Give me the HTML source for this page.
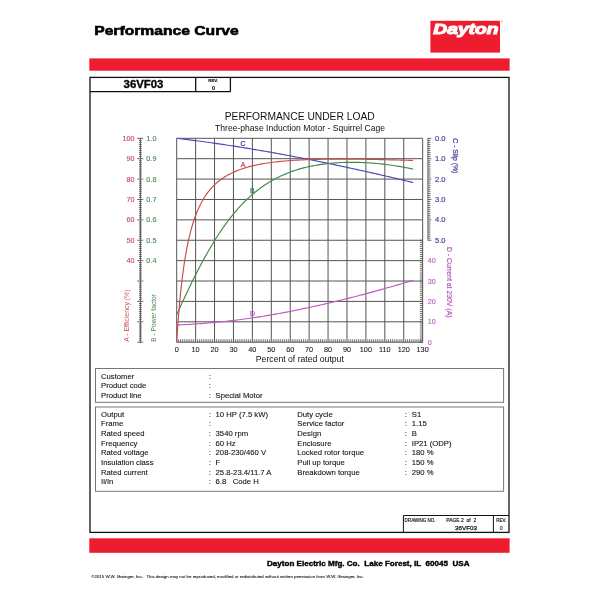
<!DOCTYPE html><html><head><meta charset="utf-8"><title>Performance Curve</title><style>
html,body{margin:0;padding:0;background:#fff;width:600px;height:600px;overflow:hidden}
svg{display:block;filter:blur(0.3px)}text{font-family:"Liberation Sans",Arial,Helvetica,sans-serif}
</style></head><body>
<svg width="600" height="600" viewBox="0 0 600 600">
<rect width="600" height="600" fill="#fff"/>
<text x="94.2" y="34.9" font-size="13.4" font-weight="bold" fill="#000" stroke="#000" stroke-width="0.6" textLength="144.5" lengthAdjust="spacingAndGlyphs">Performance Curve</text>
<rect x="430.4" y="20.8" width="69.6" height="31.8" fill="#ED1C2E"/>
<text x="433.3" y="34.4" font-size="14.6" font-weight="bold" font-style="italic" fill="#fff" stroke="#fff" stroke-width="1.05" textLength="65.2" lengthAdjust="spacingAndGlyphs">Dayton</text>
<text x="501" y="22.6" font-size="3" fill="#c66">®</text>
<rect x="89.3" y="58.4" width="420.3" height="12.3" fill="#ED1C2E"/>
<rect x="89.3" y="538.3" width="420.3" height="14.5" fill="#ED1C2E"/>
<rect x="90" y="77.4" width="419" height="455" fill="none" stroke="#111" stroke-width="1.3"/>
<path d="M90 91.7H230.4M195.7 77.4V91.7M230.4 77.4V91.7" fill="none" stroke="#111" stroke-width="1.3"/>
<text x="143.5" y="87.9" font-size="10.2" font-weight="bold" text-anchor="middle" fill="#000" stroke="#000" stroke-width="0.3" textLength="39.8" lengthAdjust="spacingAndGlyphs">36VF03</text>
<text x="213.2" y="82.4" font-size="4.4" font-weight="bold" text-anchor="middle" fill="#111" stroke="#111" stroke-width="0.15" textLength="10" lengthAdjust="spacingAndGlyphs">REV.</text>
<text x="213.4" y="89.7" font-size="5.4" font-weight="bold" text-anchor="middle" fill="#111" stroke="#111" stroke-width="0.15">0</text>
<text x="299.7" y="120" font-size="10" text-anchor="middle" fill="#111" textLength="150" lengthAdjust="spacingAndGlyphs">PERFORMANCE UNDER LOAD</text>
<text x="300.1" y="130.5" font-size="8.2" text-anchor="middle" fill="#111" textLength="170" lengthAdjust="spacingAndGlyphs">Three-phase Induction Motor - Squirrel Cage</text>
<path d="M176.70 138.30V342.20M195.62 138.30V342.20M214.54 138.30V342.20M233.46 138.30V342.20M252.38 138.30V342.20M271.30 138.30V342.20M290.22 138.30V342.20M309.14 138.30V342.20M328.06 138.30V342.20M346.98 138.30V342.20M365.90 138.30V342.20M384.82 138.30V342.20M403.74 138.30V342.20M422.66 138.30V342.20M176.70 138.30H422.66M176.70 158.69H422.66M176.70 179.08H422.66M176.70 199.47H422.66M176.70 219.86H422.66M176.70 240.25H422.66M176.70 260.64H422.66M176.70 281.03H422.66M176.70 301.42H422.66M176.70 321.81H422.66M176.70 342.20H422.66" fill="none" stroke="#555" stroke-width="1"/>
<path d="M178.59 339.20V342.20M180.48 339.20V342.20M182.38 339.20V342.20M184.27 339.20V342.20M186.16 339.20V342.20M188.05 339.20V342.20M189.94 339.20V342.20M191.84 339.20V342.20M193.73 339.20V342.20M197.51 339.20V342.20M199.40 339.20V342.20M201.30 339.20V342.20M203.19 339.20V342.20M205.08 339.20V342.20M206.97 339.20V342.20M208.86 339.20V342.20M210.76 339.20V342.20M212.65 339.20V342.20M216.43 339.20V342.20M218.32 339.20V342.20M220.22 339.20V342.20M222.11 339.20V342.20M224.00 339.20V342.20M225.89 339.20V342.20M227.78 339.20V342.20M229.68 339.20V342.20M231.57 339.20V342.20M235.35 339.20V342.20M237.24 339.20V342.20M239.14 339.20V342.20M241.03 339.20V342.20M242.92 339.20V342.20M244.81 339.20V342.20M246.70 339.20V342.20M248.60 339.20V342.20M250.49 339.20V342.20M254.27 339.20V342.20M256.16 339.20V342.20M258.06 339.20V342.20M259.95 339.20V342.20M261.84 339.20V342.20M263.73 339.20V342.20M265.62 339.20V342.20M267.52 339.20V342.20M269.41 339.20V342.20M273.19 339.20V342.20M275.08 339.20V342.20M276.98 339.20V342.20M278.87 339.20V342.20M280.76 339.20V342.20M282.65 339.20V342.20M284.54 339.20V342.20M286.44 339.20V342.20M288.33 339.20V342.20M292.11 339.20V342.20M294.00 339.20V342.20M295.90 339.20V342.20M297.79 339.20V342.20M299.68 339.20V342.20M301.57 339.20V342.20M303.46 339.20V342.20M305.36 339.20V342.20M307.25 339.20V342.20M311.03 339.20V342.20M312.92 339.20V342.20M314.82 339.20V342.20M316.71 339.20V342.20M318.60 339.20V342.20M320.49 339.20V342.20M322.38 339.20V342.20M324.28 339.20V342.20M326.17 339.20V342.20M329.95 339.20V342.20M331.84 339.20V342.20M333.74 339.20V342.20M335.63 339.20V342.20M337.52 339.20V342.20M339.41 339.20V342.20M341.30 339.20V342.20M343.20 339.20V342.20M345.09 339.20V342.20M348.87 339.20V342.20M350.76 339.20V342.20M352.66 339.20V342.20M354.55 339.20V342.20M356.44 339.20V342.20M358.33 339.20V342.20M360.22 339.20V342.20M362.12 339.20V342.20M364.01 339.20V342.20M367.79 339.20V342.20M369.68 339.20V342.20M371.58 339.20V342.20M373.47 339.20V342.20M375.36 339.20V342.20M377.25 339.20V342.20M379.14 339.20V342.20M381.04 339.20V342.20M382.93 339.20V342.20M386.71 339.20V342.20M388.60 339.20V342.20M390.50 339.20V342.20M392.39 339.20V342.20M394.28 339.20V342.20M396.17 339.20V342.20M398.06 339.20V342.20M399.96 339.20V342.20M401.85 339.20V342.20M405.63 339.20V342.20M407.52 339.20V342.20M409.42 339.20V342.20M411.31 339.20V342.20M413.20 339.20V342.20M415.09 339.20V342.20M416.98 339.20V342.20M418.88 339.20V342.20M420.77 339.20V342.20" fill="none" stroke="#444" stroke-width="0.7"/>
<text x="176.70" y="351.8" font-size="7.3" text-anchor="middle" fill="#222" stroke="#222" stroke-width="0.1">0</text>
<text x="195.62" y="351.8" font-size="7.3" text-anchor="middle" fill="#222" stroke="#222" stroke-width="0.1">10</text>
<text x="214.54" y="351.8" font-size="7.3" text-anchor="middle" fill="#222" stroke="#222" stroke-width="0.1">20</text>
<text x="233.46" y="351.8" font-size="7.3" text-anchor="middle" fill="#222" stroke="#222" stroke-width="0.1">30</text>
<text x="252.38" y="351.8" font-size="7.3" text-anchor="middle" fill="#222" stroke="#222" stroke-width="0.1">40</text>
<text x="271.30" y="351.8" font-size="7.3" text-anchor="middle" fill="#222" stroke="#222" stroke-width="0.1">50</text>
<text x="290.22" y="351.8" font-size="7.3" text-anchor="middle" fill="#222" stroke="#222" stroke-width="0.1">60</text>
<text x="309.14" y="351.8" font-size="7.3" text-anchor="middle" fill="#222" stroke="#222" stroke-width="0.1">70</text>
<text x="328.06" y="351.8" font-size="7.3" text-anchor="middle" fill="#222" stroke="#222" stroke-width="0.1">80</text>
<text x="346.98" y="351.8" font-size="7.3" text-anchor="middle" fill="#222" stroke="#222" stroke-width="0.1">90</text>
<text x="365.90" y="351.8" font-size="7.3" text-anchor="middle" fill="#222" stroke="#222" stroke-width="0.1">100</text>
<text x="384.82" y="351.8" font-size="7.3" text-anchor="middle" fill="#222" stroke="#222" stroke-width="0.1">110</text>
<text x="403.74" y="351.8" font-size="7.3" text-anchor="middle" fill="#222" stroke="#222" stroke-width="0.1">120</text>
<text x="422.66" y="351.8" font-size="7.3" text-anchor="middle" fill="#222" stroke="#222" stroke-width="0.1">130</text>
<text x="299.85" y="361.7" font-size="8.5" text-anchor="middle" fill="#111" textLength="88" lengthAdjust="spacingAndGlyphs">Percent of rated output</text>
<path d="M140.4 138.00V343.20M137.20 138.30H143.30M139.00 140.34H141.80M139.00 142.38H141.80M139.00 144.42H141.80M139.00 146.46H141.80M139.00 148.50H141.80M139.00 150.53H141.80M139.00 152.57H141.80M139.00 154.61H141.80M139.00 156.65H141.80M137.20 158.69H143.30M139.00 160.73H141.80M139.00 162.77H141.80M139.00 164.81H141.80M139.00 166.85H141.80M139.00 168.89H141.80M139.00 170.92H141.80M139.00 172.96H141.80M139.00 175.00H141.80M139.00 177.04H141.80M137.20 179.08H143.30M139.00 181.12H141.80M139.00 183.16H141.80M139.00 185.20H141.80M139.00 187.24H141.80M139.00 189.28H141.80M139.00 191.31H141.80M139.00 193.35H141.80M139.00 195.39H141.80M139.00 197.43H141.80M137.20 199.47H143.30M139.00 201.51H141.80M139.00 203.55H141.80M139.00 205.59H141.80M139.00 207.63H141.80M139.00 209.67H141.80M139.00 211.70H141.80M139.00 213.74H141.80M139.00 215.78H141.80M139.00 217.82H141.80M137.20 219.86H143.30M139.00 221.90H141.80M139.00 223.94H141.80M139.00 225.98H141.80M139.00 228.02H141.80M139.00 230.06H141.80M139.00 232.09H141.80M139.00 234.13H141.80M139.00 236.17H141.80M139.00 238.21H141.80M137.20 240.25H143.30M139.00 242.29H141.80M139.00 244.33H141.80M139.00 246.37H141.80M139.00 248.41H141.80M139.00 250.45H141.80M139.00 252.48H141.80M139.00 254.52H141.80M139.00 256.56H141.80M139.00 258.60H141.80M137.20 260.64H143.30M139.00 262.68H141.80M139.00 264.72H141.80M139.00 266.76H141.80M139.00 268.80H141.80M139.00 270.84H141.80M139.00 272.87H141.80M139.00 274.91H141.80M139.00 276.95H141.80M139.00 278.99H141.80M137.20 281.03H143.30M139.00 283.07H141.80M139.00 285.11H141.80M139.00 287.15H141.80M139.00 289.19H141.80M139.00 291.23H141.80M139.00 293.26H141.80M139.00 295.30H141.80M139.00 297.34H141.80M139.00 299.38H141.80M137.20 301.42H143.30M139.00 303.46H141.80M139.00 305.50H141.80M139.00 307.54H141.80M139.00 309.58H141.80M139.00 311.62H141.80M139.00 313.65H141.80M139.00 315.69H141.80M139.00 317.73H141.80M139.00 319.77H141.80M137.20 321.81H143.30M139.00 323.85H141.80M139.00 325.89H141.80M139.00 327.93H141.80M139.00 329.97H141.80M139.00 332.00H141.80M139.00 334.04H141.80M139.00 336.08H141.80M139.00 338.12H141.80M139.00 340.16H141.80M137.20 342.20H143.30" fill="none" stroke="#444" stroke-width="0.8"/>
<text x="134.6" y="140.80" font-size="7.2" text-anchor="end" fill="#C24652" stroke="#C24652" stroke-width="0.1">100</text>
<text x="146.3" y="140.80" font-size="7.3" fill="#4A8050" stroke="#4A8050" stroke-width="0.1">1.0</text>
<text x="134.6" y="161.19" font-size="7.2" text-anchor="end" fill="#C24652" stroke="#C24652" stroke-width="0.1">90</text>
<text x="146.3" y="161.19" font-size="7.3" fill="#4A8050" stroke="#4A8050" stroke-width="0.1">0.9</text>
<text x="134.6" y="181.58" font-size="7.2" text-anchor="end" fill="#C24652" stroke="#C24652" stroke-width="0.1">80</text>
<text x="146.3" y="181.58" font-size="7.3" fill="#4A8050" stroke="#4A8050" stroke-width="0.1">0.8</text>
<text x="134.6" y="201.97" font-size="7.2" text-anchor="end" fill="#C24652" stroke="#C24652" stroke-width="0.1">70</text>
<text x="146.3" y="201.97" font-size="7.3" fill="#4A8050" stroke="#4A8050" stroke-width="0.1">0.7</text>
<text x="134.6" y="222.36" font-size="7.2" text-anchor="end" fill="#C24652" stroke="#C24652" stroke-width="0.1">60</text>
<text x="146.3" y="222.36" font-size="7.3" fill="#4A8050" stroke="#4A8050" stroke-width="0.1">0.6</text>
<text x="134.6" y="242.75" font-size="7.2" text-anchor="end" fill="#C24652" stroke="#C24652" stroke-width="0.1">50</text>
<text x="146.3" y="242.75" font-size="7.3" fill="#4A8050" stroke="#4A8050" stroke-width="0.1">0.5</text>
<text x="134.6" y="263.14" font-size="7.2" text-anchor="end" fill="#C24652" stroke="#C24652" stroke-width="0.1">40</text>
<text x="146.3" y="263.14" font-size="7.3" fill="#4A8050" stroke="#4A8050" stroke-width="0.1">0.4</text>
<text transform="translate(129.0 341.8) rotate(-90)" font-size="6.9" fill="#CC5058" textLength="52.3" lengthAdjust="spacingAndGlyphs">A - Efficiency (%)</text>
<text transform="translate(156.3 341.8) rotate(-90)" font-size="6.7" fill="#4E8A55" textLength="47.8" lengthAdjust="spacingAndGlyphs">B - Power factor</text>
<path d="M427.9 138.00V240.55M427.90 138.30H431.40M427.90 140.34H430.50M427.90 142.38H430.50M427.90 144.42H430.50M427.90 146.46H430.50M427.90 148.50H430.50M427.90 150.53H430.50M427.90 152.57H430.50M427.90 154.61H430.50M427.90 156.65H430.50M427.90 158.69H431.40M427.90 160.73H430.50M427.90 162.77H430.50M427.90 164.81H430.50M427.90 166.85H430.50M427.90 168.89H430.50M427.90 170.92H430.50M427.90 172.96H430.50M427.90 175.00H430.50M427.90 177.04H430.50M427.90 179.08H431.40M427.90 181.12H430.50M427.90 183.16H430.50M427.90 185.20H430.50M427.90 187.24H430.50M427.90 189.28H430.50M427.90 191.31H430.50M427.90 193.35H430.50M427.90 195.39H430.50M427.90 197.43H430.50M427.90 199.47H431.40M427.90 201.51H430.50M427.90 203.55H430.50M427.90 205.59H430.50M427.90 207.63H430.50M427.90 209.67H430.50M427.90 211.70H430.50M427.90 213.74H430.50M427.90 215.78H430.50M427.90 217.82H430.50M427.90 219.86H431.40M427.90 221.90H430.50M427.90 223.94H430.50M427.90 225.98H430.50M427.90 228.02H430.50M427.90 230.06H430.50M427.90 232.09H430.50M427.90 234.13H430.50M427.90 236.17H430.50M427.90 238.21H430.50M427.90 240.25H431.40" fill="none" stroke="#444" stroke-width="0.8"/>
<text x="435" y="140.80" font-size="7.5" fill="#3A3A96" stroke="#3A3A96" stroke-width="0.15">0.0</text>
<text x="435" y="161.19" font-size="7.5" fill="#3A3A96" stroke="#3A3A96" stroke-width="0.15">1.0</text>
<text x="435" y="181.58" font-size="7.5" fill="#3A3A96" stroke="#3A3A96" stroke-width="0.15">2.0</text>
<text x="435" y="201.97" font-size="7.5" fill="#3A3A96" stroke="#3A3A96" stroke-width="0.15">3.0</text>
<text x="435" y="222.36" font-size="7.5" fill="#3A3A96" stroke="#3A3A96" stroke-width="0.15">4.0</text>
<text x="435" y="242.75" font-size="7.5" fill="#3A3A96" stroke="#3A3A96" stroke-width="0.15">5.0</text>
<text transform="translate(452.6 138.3) rotate(90)" font-size="7" fill="#3A3A96" stroke="#3A3A96" stroke-width="0.2" textLength="35" lengthAdjust="spacingAndGlyphs">C - Slip (%)</text>
<path d="M419.86 342.20H422.66M419.86 340.16H422.66M419.86 338.12H422.66M419.86 336.08H422.66M419.86 334.04H422.66M419.86 332.01H422.66M419.86 329.97H422.66M419.86 327.93H422.66M419.86 325.89H422.66M419.86 323.85H422.66M419.86 321.81H422.66M419.86 319.77H422.66M419.86 317.73H422.66M419.86 315.69H422.66M419.86 313.65H422.66M419.86 311.62H422.66M419.86 309.58H422.66M419.86 307.54H422.66M419.86 305.50H422.66M419.86 303.46H422.66M419.86 301.42H422.66M419.86 299.38H422.66M419.86 297.34H422.66M419.86 295.30H422.66M419.86 293.26H422.66M419.86 291.23H422.66M419.86 289.19H422.66M419.86 287.15H422.66M419.86 285.11H422.66M419.86 283.07H422.66M419.86 281.03H422.66M419.86 278.99H422.66M419.86 276.95H422.66M419.86 274.91H422.66M419.86 272.87H422.66M419.86 270.84H422.66M419.86 268.80H422.66M419.86 266.76H422.66M419.86 264.72H422.66M419.86 262.68H422.66M419.86 260.64H422.66M419.86 258.60H422.66M419.86 256.56H422.66M419.86 254.52H422.66M419.86 252.48H422.66M419.86 250.45H422.66M419.86 248.41H422.66M419.86 246.37H422.66M419.86 244.33H422.66M419.86 242.29H422.66M419.86 240.25H422.66" fill="none" stroke="#444" stroke-width="0.8"/>
<text x="427.8" y="344.70" font-size="7.2" fill="#B858BC" stroke="#B858BC" stroke-width="0.1">0</text>
<text x="427.8" y="324.31" font-size="7.2" fill="#B858BC" stroke="#B858BC" stroke-width="0.1">10</text>
<text x="427.8" y="303.92" font-size="7.2" fill="#B858BC" stroke="#B858BC" stroke-width="0.1">20</text>
<text x="427.8" y="283.53" font-size="7.2" fill="#B858BC" stroke="#B858BC" stroke-width="0.1">30</text>
<text x="427.8" y="263.14" font-size="7.2" fill="#B858BC" stroke="#B858BC" stroke-width="0.1">40</text>
<text transform="translate(447 247) rotate(90)" font-size="6.85" fill="#B858BC" stroke="#B858BC" stroke-width="0.2" textLength="70.5" lengthAdjust="spacingAndGlyphs">D - Current at 230V (A)</text>
<path d="M176.70,138.30 L178.53,138.52 L180.37,138.73 L182.20,138.95 L184.03,139.18 L185.87,139.40 L187.70,139.63 L189.53,139.86 L191.37,140.09 L193.20,140.33 L195.03,140.56 L196.87,140.80 L198.70,141.04 L200.53,141.29 L202.37,141.53 L204.20,141.78 L206.03,142.03 L207.87,142.29 L209.70,142.54 L211.53,142.80 L213.37,143.06 L215.20,143.32 L217.03,143.59 L218.87,143.86 L220.70,144.13 L222.53,144.40 L224.37,144.67 L226.20,144.95 L228.03,145.22 L229.87,145.50 L231.70,145.79 L233.53,146.07 L235.37,146.36 L237.20,146.65 L239.03,146.94 L240.87,147.23 L242.70,147.53 L244.53,147.82 L246.37,148.12 L248.20,148.42 L250.03,148.73 L251.87,149.03 L253.70,149.34 L255.53,149.65 L257.37,149.96 L259.20,150.27 L261.03,150.59 L262.87,150.90 L264.70,151.22 L266.53,151.54 L268.37,151.87 L270.20,152.19 L272.03,152.52 L273.87,152.85 L275.70,153.18 L277.53,153.51 L279.37,153.84 L281.20,154.18 L283.03,154.52 L284.87,154.86 L286.70,155.20 L288.53,155.54 L290.37,155.89 L292.20,156.24 L294.03,156.58 L295.87,156.94 L297.70,157.29 L299.53,157.64 L301.37,158.00 L303.20,158.35 L305.03,158.71 L306.87,159.07 L308.70,159.44 L310.53,159.80 L312.37,160.17 L314.20,160.53 L316.03,160.90 L317.87,161.27 L319.70,161.65 L321.53,162.02 L323.37,162.40 L325.20,162.77 L327.03,163.15 L328.87,163.53 L330.70,163.91 L332.53,164.30 L334.37,164.68 L336.20,165.07 L338.03,165.46 L339.87,165.85 L341.70,166.24 L343.53,166.63 L345.37,167.02 L347.20,167.42 L349.03,167.82 L350.87,168.21 L352.70,168.61 L354.53,169.01 L356.37,169.42 L358.20,169.82 L360.03,170.23 L361.87,170.63 L363.70,171.04 L365.53,171.45 L367.37,171.86 L369.20,172.27 L371.03,172.68 L372.87,173.10 L374.70,173.51 L376.53,173.93 L378.37,174.35 L380.20,174.77 L382.03,175.19 L383.87,175.61 L385.70,176.03 L387.53,176.46 L389.37,176.88 L391.20,177.31 L393.03,177.74 L394.87,178.17 L396.70,178.60 L398.53,179.03 L400.37,179.46 L402.20,179.89 L404.03,180.33 L405.87,180.76 L407.70,181.20 L409.53,181.64 L411.37,182.08 L413.20,182.52" fill="none" stroke="#4848BC" stroke-width="1.15"/>
<path d="M176.70,325.00 L178.53,324.92 L180.37,324.83 L182.20,324.74 L184.03,324.65 L185.87,324.55 L187.70,324.45 L189.53,324.34 L191.37,324.23 L193.20,324.12 L195.03,324.00 L196.87,323.88 L198.70,323.75 L200.53,323.62 L202.37,323.48 L204.20,323.34 L206.03,323.19 L207.87,323.04 L209.70,322.89 L211.53,322.73 L213.37,322.56 L215.20,322.39 L217.03,322.22 L218.87,322.04 L220.70,321.86 L222.53,321.67 L224.37,321.47 L226.20,321.27 L228.03,321.07 L229.87,320.86 L231.70,320.65 L233.53,320.43 L235.37,320.21 L237.20,319.98 L239.03,319.75 L240.87,319.51 L242.70,319.27 L244.53,319.02 L246.37,318.77 L248.20,318.51 L250.03,318.25 L251.87,317.98 L253.70,317.71 L255.53,317.43 L257.37,317.15 L259.20,316.87 L261.03,316.58 L262.87,316.29 L264.70,315.99 L266.53,315.69 L268.37,315.38 L270.20,315.07 L272.03,314.75 L273.87,314.43 L275.70,314.11 L277.53,313.78 L279.37,313.45 L281.20,313.11 L283.03,312.77 L284.87,312.43 L286.70,312.08 L288.53,311.73 L290.37,311.37 L292.20,311.01 L294.03,310.65 L295.87,310.28 L297.70,309.91 L299.53,309.53 L301.37,309.16 L303.20,308.77 L305.03,308.39 L306.87,308.00 L308.70,307.61 L310.53,307.21 L312.37,306.81 L314.20,306.41 L316.03,306.00 L317.87,305.59 L319.70,305.18 L321.53,304.76 L323.37,304.34 L325.20,303.92 L327.03,303.49 L328.87,303.06 L330.70,302.63 L332.53,302.20 L334.37,301.76 L336.20,301.32 L338.03,300.87 L339.87,300.42 L341.70,299.97 L343.53,299.52 L345.37,299.06 L347.20,298.60 L349.03,298.14 L350.87,297.67 L352.70,297.21 L354.53,296.73 L356.37,296.26 L358.20,295.78 L360.03,295.30 L361.87,294.82 L363.70,294.34 L365.53,293.85 L367.37,293.36 L369.20,292.86 L371.03,292.37 L372.87,291.87 L374.70,291.37 L376.53,290.86 L378.37,290.36 L380.20,289.85 L382.03,289.34 L383.87,288.82 L385.70,288.31 L387.53,287.79 L389.37,287.26 L391.20,286.74 L393.03,286.21 L394.87,285.68 L396.70,285.15 L398.53,284.62 L400.37,284.08 L402.20,283.54 L404.03,283.00 L405.87,282.45 L407.70,281.91 L409.53,281.36 L411.37,280.80 L413.20,280.25" fill="none" stroke="#BE58C4" stroke-width="1.15"/>
<path d="M176.70,314.64 L176.79,314.43 L176.89,314.22 L176.98,314.01 L177.08,313.80 L177.17,313.59 L177.27,313.38 L177.36,313.17 L177.46,312.96 L177.55,312.75 L177.65,312.55 L177.74,312.34 L177.84,312.13 L177.93,311.92 L178.02,311.71 L178.12,311.50 L178.21,311.30 L178.31,311.09 L178.40,310.88 L178.50,310.67 L178.59,310.46 L178.69,310.26 L178.78,310.05 L178.88,309.84 L178.97,309.63 L179.06,309.43 L179.16,309.22 L179.25,309.01 L179.35,308.80 L179.44,308.60 L179.54,308.39 L179.63,308.18 L179.73,307.98 L179.82,307.77 L179.92,307.56 L180.01,307.36 L180.11,307.15 L180.20,306.94 L180.29,306.74 L180.39,306.53 L180.48,306.32 L180.86,305.50 L181.24,304.68 L181.62,303.86 L182.00,303.04 L182.38,302.22 L182.75,301.40 L183.13,300.59 L183.51,299.78 L183.89,298.97 L184.27,298.16 L184.65,297.35 L185.02,296.54 L185.40,295.74 L185.78,294.93 L186.16,294.13 L186.54,293.34 L186.92,292.54 L187.30,291.74 L187.67,290.95 L188.05,290.16 L188.43,289.37 L188.81,288.58 L189.19,287.80 L189.57,287.01 L189.94,286.23 L190.32,285.45 L190.70,284.67 L191.08,283.90 L191.46,283.13 L191.84,282.36 L192.21,281.59 L192.59,280.82 L192.97,280.06 L193.35,279.29 L193.73,278.53 L194.11,277.78 L194.48,277.02 L194.86,276.27 L195.24,275.52 L195.62,274.77 L196.00,274.02 L196.38,273.28 L196.76,272.54 L197.13,271.80 L197.51,271.07 L197.89,270.33 L198.27,269.60 L198.65,268.87 L199.03,268.15 L199.40,267.42 L201.20,264.02 L203.00,260.68 L204.79,257.40 L206.59,254.19 L208.39,251.03 L210.18,247.94 L211.98,244.92 L213.78,241.96 L215.57,239.07 L217.37,236.25 L219.17,233.50 L220.96,230.81 L222.76,228.20 L224.56,225.65 L226.35,223.16 L228.15,220.75 L229.95,218.41 L231.74,216.13 L233.54,213.91 L235.34,211.77 L237.13,209.68 L238.93,207.66 L240.73,205.71 L242.52,203.81 L244.32,201.98 L246.12,200.21 L247.91,198.49 L249.71,196.84 L251.51,195.24 L253.30,193.69 L255.10,192.20 L256.90,190.76 L258.69,189.37 L260.49,188.04 L262.29,186.75 L264.08,185.51 L265.88,184.32 L267.67,183.17 L269.47,182.06 L271.27,181.00 L273.06,179.98 L274.86,179.00 L276.66,178.06 L278.45,177.15 L280.25,176.28 L282.05,175.45 L283.84,174.66 L285.64,173.89 L287.44,173.16 L289.23,172.47 L291.03,171.80 L292.83,171.16 L294.62,170.55 L296.42,169.97 L298.22,169.42 L300.01,168.89 L301.81,168.39 L303.61,167.91 L305.40,167.45 L307.20,167.02 L309.00,166.62 L310.79,166.23 L312.59,165.87 L314.39,165.53 L316.18,165.20 L317.98,164.90 L319.78,164.62 L321.57,164.35 L323.37,164.11 L325.17,163.88 L326.96,163.67 L328.76,163.47 L330.56,163.29 L332.35,163.13 L334.15,162.98 L335.95,162.85 L337.74,162.74 L339.54,162.64 L341.34,162.55 L343.13,162.48 L344.93,162.42 L346.73,162.38 L348.52,162.35 L350.32,162.33 L352.12,162.32 L353.91,162.33 L355.71,162.35 L357.51,162.39 L359.30,162.43 L361.10,162.49 L362.90,162.56 L364.69,162.65 L366.49,162.74 L368.28,162.85 L370.08,162.96 L371.88,163.09 L373.67,163.24 L375.47,163.39 L377.27,163.55 L379.06,163.73 L380.86,163.91 L382.66,164.11 L384.45,164.32 L386.25,164.53 L388.05,164.76 L389.84,165.00 L391.64,165.26 L393.44,165.52 L395.23,165.79 L397.03,166.07 L398.83,166.37 L400.62,166.67 L402.42,166.98 L404.22,167.31 L406.01,167.64 L407.81,167.99 L409.61,168.34 L411.40,168.71 L413.20,169.08" fill="none" stroke="#3F8A48" stroke-width="1.15"/>
<path d="M176.70,342.20 L176.79,340.67 L176.89,339.16 L176.98,337.67 L177.08,336.20 L177.17,334.75 L177.27,333.32 L177.36,331.90 L177.46,330.51 L177.55,329.14 L177.65,327.78 L177.74,326.44 L177.84,325.12 L177.93,323.81 L178.02,322.52 L178.12,321.25 L178.21,320.00 L178.31,318.76 L178.40,317.53 L178.50,316.32 L178.59,315.13 L178.69,313.95 L178.78,312.78 L178.88,311.63 L178.97,310.50 L179.06,309.37 L179.16,308.26 L179.25,307.17 L179.35,306.08 L179.44,305.01 L179.54,303.95 L179.63,302.91 L179.73,301.87 L179.82,300.85 L179.92,299.84 L180.01,298.84 L180.11,297.86 L180.20,296.88 L180.29,295.92 L180.39,294.96 L180.48,294.02 L180.86,290.35 L181.24,286.83 L181.62,283.46 L182.00,280.24 L182.38,277.14 L182.75,274.16 L183.13,271.30 L183.51,268.56 L183.89,265.91 L184.27,263.36 L184.65,260.91 L185.02,258.54 L185.40,256.26 L185.78,254.05 L186.16,251.93 L186.54,249.87 L186.92,247.88 L187.30,245.96 L187.67,244.10 L188.05,242.30 L188.43,240.55 L188.81,238.86 L189.19,237.22 L189.57,235.63 L189.94,234.09 L190.32,232.59 L190.70,231.14 L191.08,229.72 L191.46,228.35 L191.84,227.02 L192.21,225.72 L192.59,224.46 L192.97,223.23 L193.35,222.04 L193.73,220.87 L194.11,219.74 L194.48,218.64 L194.86,217.56 L195.24,216.51 L195.62,215.49 L196.00,214.49 L196.38,213.52 L196.76,212.57 L197.13,211.65 L197.51,210.74 L197.89,209.86 L198.27,209.00 L198.65,208.15 L199.03,207.33 L199.40,206.53 L201.20,202.95 L203.00,199.72 L204.79,196.79 L206.59,194.13 L208.39,191.71 L210.18,189.50 L211.98,187.46 L213.78,185.60 L215.57,183.87 L217.37,182.28 L219.17,180.81 L220.96,179.45 L222.76,178.18 L224.56,177.00 L226.35,175.90 L228.15,174.87 L229.95,173.91 L231.74,173.01 L233.54,172.17 L235.34,171.39 L237.13,170.65 L238.93,169.95 L240.73,169.30 L242.52,168.69 L244.32,168.11 L246.12,167.56 L247.91,167.05 L249.71,166.57 L251.51,166.11 L253.30,165.68 L255.10,165.27 L256.90,164.89 L258.69,164.52 L260.49,164.18 L262.29,163.86 L264.08,163.55 L265.88,163.26 L267.67,162.98 L269.47,162.72 L271.27,162.48 L273.06,162.25 L274.86,162.03 L276.66,161.82 L278.45,161.63 L280.25,161.44 L282.05,161.27 L283.84,161.10 L285.64,160.95 L287.44,160.80 L289.23,160.66 L291.03,160.53 L292.83,160.41 L294.62,160.30 L296.42,160.19 L298.22,160.09 L300.01,160.00 L301.81,159.91 L303.61,159.83 L305.40,159.75 L307.20,159.68 L309.00,159.61 L310.79,159.55 L312.59,159.49 L314.39,159.44 L316.18,159.40 L317.98,159.35 L319.78,159.31 L321.57,159.28 L323.37,159.25 L325.17,159.22 L326.96,159.20 L328.76,159.18 L330.56,159.16 L332.35,159.14 L334.15,159.13 L335.95,159.12 L337.74,159.12 L339.54,159.11 L341.34,159.11 L343.13,159.11 L344.93,159.12 L346.73,159.13 L348.52,159.13 L350.32,159.15 L352.12,159.16 L353.91,159.17 L355.71,159.19 L357.51,159.21 L359.30,159.23 L361.10,159.25 L362.90,159.28 L364.69,159.30 L366.49,159.33 L368.28,159.36 L370.08,159.39 L371.88,159.42 L373.67,159.45 L375.47,159.49 L377.27,159.52 L379.06,159.56 L380.86,159.60 L382.66,159.64 L384.45,159.68 L386.25,159.72 L388.05,159.76 L389.84,159.81 L391.64,159.85 L393.44,159.90 L395.23,159.94 L397.03,159.99 L398.83,160.04 L400.62,160.09 L402.42,160.14 L404.22,160.19 L406.01,160.24 L407.81,160.30 L409.61,160.35 L411.40,160.40 L413.20,160.46" fill="none" stroke="#CC4B4B" stroke-width="1.15"/>
<text x="243" y="145.7" font-size="7" text-anchor="middle" fill="#3A3A96" stroke="#3A3A96" stroke-width="0.25">C</text>
<text x="243" y="166.8" font-size="7" text-anchor="middle" fill="#C24652" stroke="#C24652" stroke-width="0.25">A</text>
<text x="252.3" y="193" font-size="7" text-anchor="middle" fill="#4A8050" stroke="#4A8050" stroke-width="0.25">B</text>
<text x="252.5" y="315.7" font-size="7" text-anchor="middle" fill="#B858BC" stroke="#B858BC" stroke-width="0.25">D</text>
<rect x="95.5" y="368.5" width="408.1" height="33.8" fill="none" stroke="#777" stroke-width="1"/>
<rect x="95.5" y="407" width="408.1" height="84.3" fill="none" stroke="#777" stroke-width="1"/>
<text x="101" y="378.70" font-size="7.7" fill="#111" stroke="#111" stroke-width="0.1">Customer</text>
<text x="208.8" y="378.70" font-size="7.7" fill="#111" stroke="#111" stroke-width="0.1">:</text>
<text x="101" y="388.25" font-size="7.7" fill="#111" stroke="#111" stroke-width="0.1">Product code</text>
<text x="208.8" y="388.25" font-size="7.7" fill="#111" stroke="#111" stroke-width="0.1">:</text>
<text x="101" y="397.80" font-size="7.7" fill="#111" stroke="#111" stroke-width="0.1">Product line</text>
<text x="208.8" y="397.80" font-size="7.7" fill="#111" stroke="#111" stroke-width="0.1">:</text>
<text x="215.6" y="397.80" font-size="7.7" fill="#111" stroke="#111" stroke-width="0.1">Special Motor</text>
<text x="101" y="416.80" font-size="7.7" fill="#111" stroke="#111" stroke-width="0.1">Output</text>
<text x="208.8" y="416.80" font-size="7.7" fill="#111" stroke="#111" stroke-width="0.1">:</text>
<text x="215.6" y="416.80" font-size="7.7" fill="#111" stroke="#111" stroke-width="0.1">10 HP (7.5 kW)</text>
<text x="101" y="426.44" font-size="7.7" fill="#111" stroke="#111" stroke-width="0.1">Frame</text>
<text x="208.8" y="426.44" font-size="7.7" fill="#111" stroke="#111" stroke-width="0.1">:</text>
<text x="101" y="436.08" font-size="7.7" fill="#111" stroke="#111" stroke-width="0.1">Rated speed</text>
<text x="208.8" y="436.08" font-size="7.7" fill="#111" stroke="#111" stroke-width="0.1">:</text>
<text x="215.6" y="436.08" font-size="7.7" fill="#111" stroke="#111" stroke-width="0.1">3540 rpm</text>
<text x="101" y="445.72" font-size="7.7" fill="#111" stroke="#111" stroke-width="0.1">Frequency</text>
<text x="208.8" y="445.72" font-size="7.7" fill="#111" stroke="#111" stroke-width="0.1">:</text>
<text x="215.6" y="445.72" font-size="7.7" fill="#111" stroke="#111" stroke-width="0.1">60 Hz</text>
<text x="101" y="455.36" font-size="7.7" fill="#111" stroke="#111" stroke-width="0.1">Rated voltage</text>
<text x="208.8" y="455.36" font-size="7.7" fill="#111" stroke="#111" stroke-width="0.1">:</text>
<text x="215.6" y="455.36" font-size="7.7" fill="#111" stroke="#111" stroke-width="0.1">208-230/460 V</text>
<text x="101" y="465.00" font-size="7.7" fill="#111" stroke="#111" stroke-width="0.1">Insulation class</text>
<text x="208.8" y="465.00" font-size="7.7" fill="#111" stroke="#111" stroke-width="0.1">:</text>
<text x="215.6" y="465.00" font-size="7.7" fill="#111" stroke="#111" stroke-width="0.1">F</text>
<text x="101" y="474.64" font-size="7.7" fill="#111" stroke="#111" stroke-width="0.1">Rated current</text>
<text x="208.8" y="474.64" font-size="7.7" fill="#111" stroke="#111" stroke-width="0.1">:</text>
<text x="215.6" y="474.64" font-size="7.7" fill="#111" stroke="#111" stroke-width="0.1">25.8-23.4/11.7 A</text>
<text x="101" y="484.28" font-size="7.7" fill="#111" stroke="#111" stroke-width="0.1">Il/In</text>
<text x="208.8" y="484.28" font-size="7.7" fill="#111" stroke="#111" stroke-width="0.1">:</text>
<text x="215.6" y="484.28" font-size="7.7" fill="#111" stroke="#111" stroke-width="0.1">6.8&#160;&#160;&#160;Code H</text>
<text x="297.3" y="416.80" font-size="7.7" fill="#111" stroke="#111" stroke-width="0.1">Duty cycle</text>
<text x="404.7" y="416.80" font-size="7.7" fill="#111" stroke="#111" stroke-width="0.1">:</text>
<text x="411.8" y="416.80" font-size="7.7" fill="#111" stroke="#111" stroke-width="0.1">S1</text>
<text x="297.3" y="426.44" font-size="7.7" fill="#111" stroke="#111" stroke-width="0.1">Service factor</text>
<text x="404.7" y="426.44" font-size="7.7" fill="#111" stroke="#111" stroke-width="0.1">:</text>
<text x="411.8" y="426.44" font-size="7.7" fill="#111" stroke="#111" stroke-width="0.1">1.15</text>
<text x="297.3" y="436.08" font-size="7.7" fill="#111" stroke="#111" stroke-width="0.1">Design</text>
<text x="404.7" y="436.08" font-size="7.7" fill="#111" stroke="#111" stroke-width="0.1">:</text>
<text x="411.8" y="436.08" font-size="7.7" fill="#111" stroke="#111" stroke-width="0.1">B</text>
<text x="297.3" y="445.72" font-size="7.7" fill="#111" stroke="#111" stroke-width="0.1">Enclosure</text>
<text x="404.7" y="445.72" font-size="7.7" fill="#111" stroke="#111" stroke-width="0.1">:</text>
<text x="411.8" y="445.72" font-size="7.7" fill="#111" stroke="#111" stroke-width="0.1">IP21 (ODP)</text>
<text x="297.3" y="455.36" font-size="7.7" fill="#111" stroke="#111" stroke-width="0.1">Locked rotor torque</text>
<text x="404.7" y="455.36" font-size="7.7" fill="#111" stroke="#111" stroke-width="0.1">:</text>
<text x="411.8" y="455.36" font-size="7.7" fill="#111" stroke="#111" stroke-width="0.1">180 %</text>
<text x="297.3" y="465.00" font-size="7.7" fill="#111" stroke="#111" stroke-width="0.1">Pull up torque</text>
<text x="404.7" y="465.00" font-size="7.7" fill="#111" stroke="#111" stroke-width="0.1">:</text>
<text x="411.8" y="465.00" font-size="7.7" fill="#111" stroke="#111" stroke-width="0.1">150 %</text>
<text x="297.3" y="474.64" font-size="7.7" fill="#111" stroke="#111" stroke-width="0.1">Breakdown torque</text>
<text x="404.7" y="474.64" font-size="7.7" fill="#111" stroke="#111" stroke-width="0.1">:</text>
<text x="411.8" y="474.64" font-size="7.7" fill="#111" stroke="#111" stroke-width="0.1">290 %</text>
<path d="M403.4 532.4V515.5H509M493.4 515.5V532.4" fill="none" stroke="#111" stroke-width="1"/>
<text x="404.6" y="522.1" font-size="4.7" fill="#111" stroke="#111" stroke-width="0.15" textLength="31" lengthAdjust="spacingAndGlyphs">DRAWING NO.</text>
<text x="446.2" y="522.1" font-size="4.7" fill="#111" stroke="#111" stroke-width="0.15" textLength="30" lengthAdjust="spacingAndGlyphs" xml:space="preserve">PAGE 2  of  2</text>
<text x="455" y="530.3" font-size="6" fill="#111" stroke="#111" stroke-width="0.25" textLength="22" lengthAdjust="spacingAndGlyphs">36VF03</text>
<text x="501.3" y="521.8" font-size="4.5" text-anchor="middle" fill="#111" stroke="#111" stroke-width="0.15" textLength="10" lengthAdjust="spacingAndGlyphs">REV.</text>
<text x="501.1" y="530.3" font-size="5.2" text-anchor="middle" fill="#333" stroke="#333" stroke-width="0.15">0</text>
<text x="267" y="566.2" font-size="7" font-weight="bold" fill="#000" stroke="#000" stroke-width="0.35" textLength="202.5" lengthAdjust="spacingAndGlyphs" xml:space="preserve">Dayton Electric Mfg. Co.  Lake Forest, IL  60045  USA</text>
<text x="91.3" y="578.4" font-size="4.4" fill="#111" stroke="#111" stroke-width="0.08" textLength="272.4" lengthAdjust="spacingAndGlyphs" xml:space="preserve">©2015 W.W. Grainger, Inc.   This design may not be reproduced, modified or redistributed without written permission from W.W. Grainger, Inc.</text>
</svg></body></html>
